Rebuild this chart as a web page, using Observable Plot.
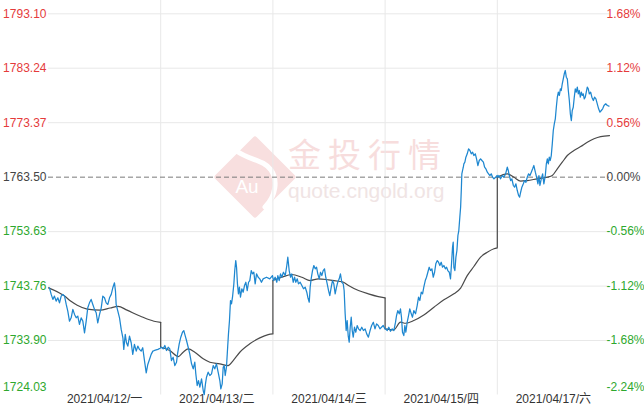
<!DOCTYPE html>
<html><head><meta charset="utf-8">
<script src="https://cdn.jsdelivr.net/npm/d3@7"></script>
<script src="https://cdn.jsdelivr.net/npm/@observablehq/plot@0.6"></script>
<style>html,body{margin:0;padding:0;background:#fff;} #chart{width:644px;height:408px;}</style>
</head><body><div id="chart"></div>
<script>
// ---- data ----
const dayLabels = ["2021/04/12/一", "2021/04/13/二", "2021/04/14/三", "2021/04/15/四", "2021/04/17/六"];
const yTicks = [1793.10, 1783.24, 1773.37, 1763.50, 1753.63, 1743.76, 1733.90, 1724.03];
const pctLabels = ["1.68%", "1.12%", "0.56%", "0.00%", "-0.56%", "-1.12%", "-1.68%", "-2.24%"];
const baseValue = 1763.50;

// price series per trading day: [fraction of day, price]
const priceDay1 = [[0.009,1743.45],[0.024,1742.26],[0.039,1741.35],[0.053,1741.95],[0.068,1741.04],[0.083,1741.64],[0.098,1740.73],[0.113,1741.95],[0.128,1742.26],[0.143,1741.95],[0.158,1740.44],[0.172,1739.23],[0.187,1737.42],[0.202,1738.02],[0.217,1739.54],[0.232,1738.63],[0.247,1738.02],[0.261,1738.33],[0.276,1736.82],[0.291,1738.02],[0.306,1737.42],[0.321,1735.30],[0.336,1737.42],[0.350,1739.83],[0.365,1740.73],[0.380,1741.35],[0.395,1740.44],[0.410,1739.54],[0.425,1738.93],[0.439,1737.11],[0.455,1738.63],[0.470,1739.83],[0.484,1741.95],[0.499,1741.64],[0.514,1740.73],[0.529,1740.44],[0.544,1741.64],[0.559,1742.26],[0.573,1743.45],[0.588,1744.36],[0.597,1742.85],[0.603,1740.44],[0.618,1739.23],[0.633,1738.02],[0.648,1735.91],[0.663,1734.40],[0.671,1732.29],[0.684,1735.01],[0.695,1733.50],[0.707,1732.89],[0.722,1734.70],[0.737,1733.50],[0.751,1731.39],[0.766,1733.19],[0.782,1731.98],[0.796,1732.89],[0.811,1732.29],[0.826,1731.98],[0.840,1732.59],[0.856,1730.17],[0.871,1728.05],[0.885,1729.56],[0.900,1730.47],[0.915,1731.39],[0.930,1731.98],[0.945,1732.10],[0.975,1732.29],[0.995,1732.50]];
const priceDay2 = [[0.007,1732.68],[0.022,1732.39],[0.037,1733.00],[0.052,1732.09],[0.067,1732.68],[0.081,1732.39],[0.096,1730.27],[0.111,1730.87],[0.126,1729.37],[0.141,1729.97],[0.150,1731.49],[0.165,1733.30],[0.179,1734.50],[0.194,1735.40],[0.206,1735.71],[0.218,1734.80],[0.230,1733.90],[0.245,1732.68],[0.259,1731.49],[0.275,1729.68],[0.290,1728.77],[0.304,1729.97],[0.313,1727.86],[0.325,1725.75],[0.337,1726.65],[0.349,1725.44],[0.364,1726.96],[0.379,1724.84],[0.388,1724.11],[0.399,1726.05],[0.408,1727.25],[0.423,1728.16],[0.438,1727.56],[0.453,1727.86],[0.468,1729.37],[0.482,1728.77],[0.497,1729.68],[0.512,1728.16],[0.527,1726.65],[0.536,1725.15],[0.548,1726.05],[0.557,1729.06],[0.566,1729.37],[0.575,1727.56],[0.586,1729.06],[0.595,1732.09],[0.604,1735.11],[0.613,1737.52],[0.622,1741.15],[0.631,1740.55],[0.640,1741.75],[0.652,1744.17],[0.660,1746.58],[0.669,1748.39],[0.676,1747.18],[0.684,1744.17],[0.693,1742.36],[0.702,1743.56],[0.711,1741.75],[0.723,1743.27],[0.735,1742.65],[0.747,1743.87],[0.759,1744.46],[0.771,1742.96],[0.783,1744.46],[0.794,1744.77],[0.807,1746.58],[0.818,1745.98],[0.830,1746.27],[0.842,1744.17],[0.854,1745.98],[0.869,1745.37],[0.883,1745.07],[0.898,1744.46],[0.913,1745.07],[0.943,1745.37],[0.972,1745.07],[0.996,1745.67]];
const priceDay3 = [[0.005,1744.77],[0.020,1745.37],[0.035,1744.46],[0.044,1745.67],[0.056,1744.77],[0.068,1745.98],[0.079,1745.37],[0.094,1746.27],[0.110,1745.67],[0.124,1747.49],[0.133,1749.00],[0.145,1746.58],[0.157,1745.37],[0.168,1745.98],[0.181,1744.46],[0.193,1745.37],[0.204,1744.46],[0.217,1745.08],[0.228,1744.17],[0.243,1744.46],[0.258,1743.87],[0.273,1743.27],[0.288,1743.56],[0.302,1742.65],[0.311,1741.75],[0.324,1740.84],[0.332,1743.56],[0.341,1745.08],[0.353,1746.58],[0.365,1747.49],[0.377,1746.89],[0.389,1747.18],[0.400,1745.98],[0.413,1745.08],[0.424,1746.27],[0.436,1745.67],[0.448,1746.58],[0.460,1746.89],[0.471,1745.37],[0.484,1744.17],[0.496,1742.96],[0.507,1742.05],[0.520,1743.56],[0.531,1744.77],[0.543,1744.17],[0.555,1742.36],[0.567,1743.56],[0.578,1744.46],[0.591,1745.08],[0.602,1745.98],[0.614,1744.46],[0.627,1744.17],[0.635,1742.96],[0.644,1738.74],[0.653,1735.71],[0.662,1737.52],[0.671,1734.80],[0.680,1733.59],[0.689,1736.31],[0.698,1738.12],[0.707,1735.71],[0.716,1734.50],[0.727,1736.31],[0.739,1735.40],[0.751,1736.62],[0.763,1736.02],[0.778,1735.71],[0.792,1736.31],[0.807,1735.71],[0.822,1736.02],[0.836,1735.11],[0.851,1734.50],[0.866,1735.71],[0.880,1736.62],[0.895,1737.22],[0.910,1736.02],[0.924,1736.92],[0.939,1736.62],[0.954,1736.02],[0.968,1736.31],[0.983,1736.62],[0.998,1736.02]];
const priceDay4 = [[0.004,1736.02],[0.019,1735.71],[0.033,1736.31],[0.048,1735.58],[0.063,1736.02],[0.078,1735.71],[0.093,1737.22],[0.102,1738.43],[0.113,1739.33],[0.126,1738.74],[0.137,1739.64],[0.146,1738.12],[0.155,1735.40],[0.167,1734.80],[0.176,1736.62],[0.185,1735.40],[0.197,1737.22],[0.209,1738.43],[0.220,1739.64],[0.233,1738.74],[0.244,1738.12],[0.256,1739.33],[0.271,1738.74],[0.286,1740.24],[0.298,1741.75],[0.310,1741.15],[0.322,1742.65],[0.334,1742.36],[0.345,1743.56],[0.358,1744.77],[0.369,1745.37],[0.381,1746.27],[0.393,1747.18],[0.405,1746.58],[0.417,1746.89],[0.429,1745.37],[0.441,1746.27],[0.452,1747.80],[0.465,1748.39],[0.476,1748.09],[0.488,1747.49],[0.500,1748.09],[0.512,1747.18],[0.524,1747.49],[0.537,1746.89],[0.548,1747.18],[0.559,1746.58],[0.572,1746.27],[0.583,1745.08],[0.592,1747.80],[0.601,1750.81],[0.607,1751.71],[0.613,1747.18],[0.622,1746.58],[0.631,1748.99],[0.640,1750.21],[0.649,1752.93],[0.657,1753.83],[0.666,1756.24],[0.673,1758.05],[0.679,1761.08],[0.684,1764.11],[0.690,1764.70],[0.697,1765.30],[0.702,1765.92],[0.711,1766.21],[0.720,1767.11],[0.732,1767.73],[0.744,1768.64],[0.756,1768.33],[0.768,1767.73],[0.780,1768.02],[0.791,1767.42],[0.804,1767.73],[0.815,1766.82],[0.827,1765.61],[0.839,1766.52],[0.851,1766.82],[0.863,1766.52],[0.876,1766.21],[0.887,1765.30],[0.898,1765.01],[0.911,1764.40],[0.922,1764.11],[0.934,1763.80],[0.946,1764.11],[0.958,1763.49],[0.970,1763.20],[0.985,1763.49],[0.999,1763.80]];
const priceDay5 = [[0.005,1763.49],[0.014,1763.80],[0.029,1763.20],[0.045,1763.80],[0.059,1763.49],[0.074,1764.11],[0.089,1765.30],[0.098,1764.70],[0.107,1763.80],[0.119,1762.89],[0.130,1763.20],[0.143,1761.99],[0.154,1761.68],[0.166,1762.29],[0.178,1761.08],[0.190,1760.17],[0.199,1759.87],[0.208,1760.77],[0.219,1761.68],[0.232,1762.29],[0.243,1762.89],[0.255,1762.58],[0.267,1763.49],[0.279,1764.11],[0.291,1763.80],[0.303,1764.40],[0.315,1765.01],[0.326,1765.61],[0.339,1764.40],[0.350,1763.49],[0.362,1762.29],[0.371,1763.80],[0.380,1761.99],[0.392,1763.20],[0.404,1764.11],[0.415,1762.29],[0.428,1763.80],[0.437,1765.92],[0.446,1766.82],[0.455,1765.92],[0.463,1767.11],[0.472,1766.52],[0.481,1767.42],[0.490,1769.54],[0.499,1771.95],[0.508,1773.16],[0.517,1774.07],[0.526,1776.17],[0.535,1777.99],[0.544,1778.89],[0.553,1778.30],[0.562,1779.51],[0.570,1779.20],[0.579,1780.42],[0.588,1781.32],[0.597,1782.23],[0.606,1782.83],[0.615,1781.61],[0.624,1781.32],[0.633,1779.20],[0.642,1777.39],[0.651,1774.98],[0.660,1773.76],[0.668,1775.58],[0.677,1776.17],[0.686,1777.99],[0.695,1779.51],[0.704,1778.89],[0.713,1779.80],[0.722,1778.60],[0.731,1779.20],[0.740,1777.99],[0.749,1778.89],[0.758,1778.30],[0.766,1778.60],[0.775,1777.70],[0.784,1777.99],[0.793,1778.89],[0.802,1779.80],[0.811,1779.51],[0.820,1778.60],[0.832,1778.89],[0.843,1777.99],[0.856,1777.39],[0.867,1777.99],[0.879,1777.70],[0.891,1776.79],[0.903,1775.88],[0.915,1775.27],[0.927,1775.58],[0.939,1775.88],[0.951,1776.49],[0.966,1776.79],[0.981,1776.49],[0.995,1776.36]];

// average-price line per trading day: [fraction of day, price]
const avgDay1 = [[0,1743.45],[0.14,1742.0],[0.2,1741.0],[0.256,1740.3],[0.345,1739.6],[0.46,1739.4],[0.55,1739.8],[0.62,1740.1],[0.70,1739.4],[0.82,1738.3],[0.94,1737.4],[1.0,1737.2]];
const avgDay2 = [[0,1732.68],[0.081,1732.09],[0.156,1731.00],[0.2,1731.78],[0.245,1732.39],[0.304,1731.78],[0.379,1730.58],[0.438,1729.97],[0.527,1729.68],[0.601,1729.37],[0.646,1730.27],[0.705,1731.78],[0.794,1733.30],[0.883,1734.38],[0.958,1734.98],[1.0,1735.11]];
const avgDay3 = [[0,1744.77],[0.079,1745.37],[0.168,1745.86],[0.258,1745.37],[0.332,1744.77],[0.406,1745.08],[0.496,1744.90],[0.585,1744.64],[0.630,1744.46],[0.674,1743.87],[0.763,1742.96],[0.851,1742.36],[0.939,1741.87],[1.0,1741.64]];
const avgDay4 = [[0,1736.02],[0.078,1735.84],[0.137,1737.22],[0.182,1737.03],[0.256,1737.52],[0.345,1738.52],[0.435,1739.93],[0.524,1741.27],[0.613,1742.36],[0.673,1743.41],[0.732,1745.67],[0.791,1747.31],[0.851,1749.00],[0.911,1749.90],[0.970,1750.52],[1.0,1750.70]];
const avgDay5 = [[0,1763.49],[0.089,1764.11],[0.149,1763.49],[0.208,1762.77],[0.267,1762.89],[0.356,1763.20],[0.446,1763.49],[0.490,1763.80],[0.535,1765.01],[0.579,1766.21],[0.624,1767.42],[0.683,1768.33],[0.743,1769.05],[0.802,1769.83],[0.862,1770.46],[0.921,1770.86],[1.0,1771.04]];

// ---- build tables ----
const RED = "#e53b3b", GREEN = "#2ea82e", NEUTRAL = "#444";
const priceDays = [priceDay1, priceDay2, priceDay3, priceDay4, priceDay5];
const avgDays = [avgDay1, avgDay2, avgDay3, avgDay4, avgDay5];
const priceRows = priceDays.flatMap((arr, d) => arr.map(([f, p]) => ({t: d + f, p})));
const avgRows = avgDays.flatMap((arr, d) => arr.map(([f, p]) => ({t: d + f, p, day: d})));
const jumps = avgDays.slice(1).map((arr, i) => ({t: i + 1, p1: avgDays[i][avgDays[i].length - 1][1], p2: arr[0][1]}));
const tickRows = yTicks.map((v, i) => ({
  v, label: v.toFixed(2), pct: pctLabels[i],
  color: v > baseValue + 1e-6 ? RED : v < baseValue - 1e-6 ? GREEN : NEUTRAL
}));
const lastTick = yTicks[yTicks.length - 1];
const innerTicks = tickRows.filter(d => d.v !== lastTick);
const bottomTicks = tickRows.filter(d => d.v === lastTick);
const dayRows = dayLabels.map((label, i) => ({label, mid: i + 0.5}));

const chart = Plot.plot({
  width: 644, height: 408,
  marginLeft: 48, marginRight: 35, marginTop: 0, marginBottom: 13.5,
  x: {domain: [0, 5], axis: null},
  y: {domain: [1724.03, 1795.51], axis: null},
  color: {type: "identity"},
  style: {fontFamily: "'Liberation Sans', Arial, 'Noto Sans CJK SC', sans-serif", fontSize: "12px", background: "#fff", overflow: "visible"},
  marks: [
    Plot.ruleX([1, 2, 3, 4], {stroke: "#e8e8e8", strokeWidth: 1}),
    Plot.ruleY(innerTicks.filter(d => d.v !== baseValue), {y: "v", stroke: "#e8e8e8", strokeWidth: 1}),
    Plot.ruleY([baseValue], {stroke: "#7a7a7a", strokeWidth: 1, strokeDasharray: "5,3"}),
    Plot.line(avgRows, {x: "t", y: "p", z: "day", stroke: "#4a4a4a", strokeWidth: 1.2, curve: "monotone-x"}),
    Plot.link(jumps, {x1: "t", x2: "t", y1: "p1", y2: "p2", stroke: "#4a4a4a", strokeWidth: 1.2}),
    Plot.line(priceRows, {x: "t", y: "p", stroke: "#1e87d0", strokeWidth: 1.25}),
    Plot.text(innerTicks, {y: "v", text: "label", fill: "color", frameAnchor: "left", textAnchor: "end", dx: -2}),
    Plot.text(innerTicks, {y: "v", text: "pct", fill: "color", frameAnchor: "right", textAnchor: "start", dx: -3}),
    Plot.text(bottomTicks, {y: "v", text: "label", fill: "color", frameAnchor: "left", textAnchor: "end", dx: -2, dy: -7.5}),
    Plot.text(bottomTicks, {y: "v", text: "pct", fill: "color", frameAnchor: "right", textAnchor: "start", dx: -3, dy: -7.5}),
    Plot.text(dayRows, {x: "mid", text: "label", frameAnchor: "bottom", dy: 7.5, fill: "#333"})
  ]
});

// watermark (decoration, drawn beneath the marks)
const ns = "http://www.w3.org/2000/svg";
const wm = document.createElementNS(ns, "g");
wm.setAttribute("text-anchor", "start");
wm.innerHTML = `
  <path d="M255,139 L293,177 L255,215 L217,177 Z" fill="#f8dfdf" stroke="#f8dfdf" stroke-width="5" stroke-linejoin="round"/>
  <path d="M238,152 C250,160 264,160 271,170 C278,180 276,196 265,207" fill="none" stroke="#ffffff" stroke-width="5" stroke-linecap="round"/>
  <text x="247" y="193" font-size="19" fill="#ffffff" text-anchor="middle" font-family="'Liberation Sans', Arial, sans-serif">Au</text>
  <text x="288" y="167" font-size="33" letter-spacing="7" fill="#f7dddd" text-anchor="start" font-family="'Noto Sans CJK SC', sans-serif">金投行情</text>
  <text x="288" y="198" font-size="21" fill="#f0e4e4" text-anchor="start" font-family="'Liberation Sans', Arial, sans-serif">quote.cngold.org</text>`;
const firstG = chart.querySelector("g");
chart.insertBefore(wm, firstG);

document.getElementById("chart").appendChild(chart);
</script>
</body></html>
